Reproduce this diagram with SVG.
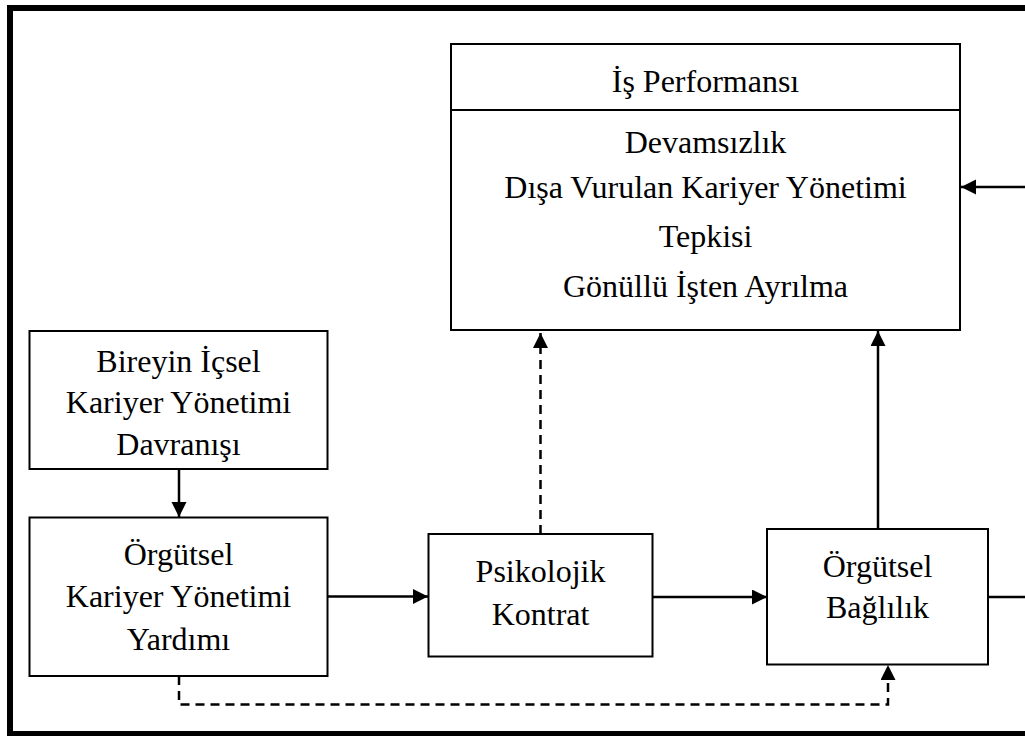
<svg xmlns="http://www.w3.org/2000/svg" width="1025" height="736" viewBox="0 0 1025 736">
  <style>
    .box { fill: #fff; stroke: #000; stroke-width: 2; }
    .lbl { font-family: "Liberation Serif", "Times New Roman", serif; font-size: 32px; fill: #000; text-anchor: middle; }
    .link { fill: none; stroke: #000; stroke-width: 2.5; }
    .dash { stroke-dasharray: 9 6; }
  </style>
  <defs>
    <marker id="arrow" markerUnits="userSpaceOnUse" markerWidth="16" markerHeight="16" refX="15" refY="7.5" orient="auto">
      <path d="M0,0 L15,7.5 L0,15 Z" fill="#000" stroke="none"/>
    </marker>
  </defs>

  <rect x="10" y="8" width="1040" height="726" fill="#fff" stroke="#000" stroke-width="6"/>

  <g id="connectors">
    <line class="link" x1="179" y1="469" x2="179" y2="517" marker-end="url(#arrow)"/>
    <line class="link" x1="328" y1="596.5" x2="428" y2="596.5" marker-end="url(#arrow)"/>
    <line class="link" x1="652" y1="597" x2="767" y2="597" marker-end="url(#arrow)"/>
    <line class="link" x1="878" y1="529" x2="878" y2="331" marker-end="url(#arrow)"/>
    <path class="link" d="M988,597 H1045 V187 H961" marker-end="url(#arrow)"/>
    <line class="link dash" x1="540.5" y1="534" x2="540.5" y2="333" marker-end="url(#arrow)"/>
    <path class="link dash" d="M179,676 V704.5 H888 V665" marker-end="url(#arrow)"/>
  </g>

  <g id="is-performansi">
    <rect class="box" x="451" y="44" width="509" height="286"/>
    <line x1="451" y1="110" x2="960" y2="110" stroke="#000" stroke-width="2"/>
    <text class="lbl" x="705.5" y="92">İş Performansı</text>
    <text class="lbl" x="705.5" y="153">Devamsızlık</text>
    <text class="lbl" x="705.5" y="198">Dışa Vurulan Kariyer Yönetimi</text>
    <text class="lbl" x="705.5" y="247">Tepkisi</text>
    <text class="lbl" x="705.5" y="297">Gönüllü İşten Ayrılma</text>
  </g>

  <g id="bireyin-icsel">
    <rect class="box" x="29.5" y="331" width="298" height="138"/>
    <text class="lbl" x="178.5" y="372">Bireyin İçsel</text>
    <text class="lbl" x="178.5" y="413">Kariyer Yönetimi</text>
    <text class="lbl" x="178.5" y="455">Davranışı</text>
  </g>

  <g id="orgutsel-yardim">
    <rect class="box" x="29.5" y="517.5" width="298" height="158.5"/>
    <text class="lbl" x="178.5" y="565">Örgütsel</text>
    <text class="lbl" x="178.5" y="607">Kariyer Yönetimi</text>
    <text class="lbl" x="178.5" y="650">Yardımı</text>
  </g>

  <g id="psikolojik-kontrat">
    <rect class="box" x="428.5" y="534" width="224" height="122.5"/>
    <text class="lbl" x="540.5" y="582">Psikolojik</text>
    <text class="lbl" x="540.5" y="625">Kontrat</text>
  </g>

  <g id="orgutsel-baglilik">
    <rect class="box" x="767" y="529" width="221" height="135.5"/>
    <text class="lbl" x="877.5" y="577">Örgütsel</text>
    <text class="lbl" x="877.5" y="618">Bağlılık</text>
  </g>
</svg>
